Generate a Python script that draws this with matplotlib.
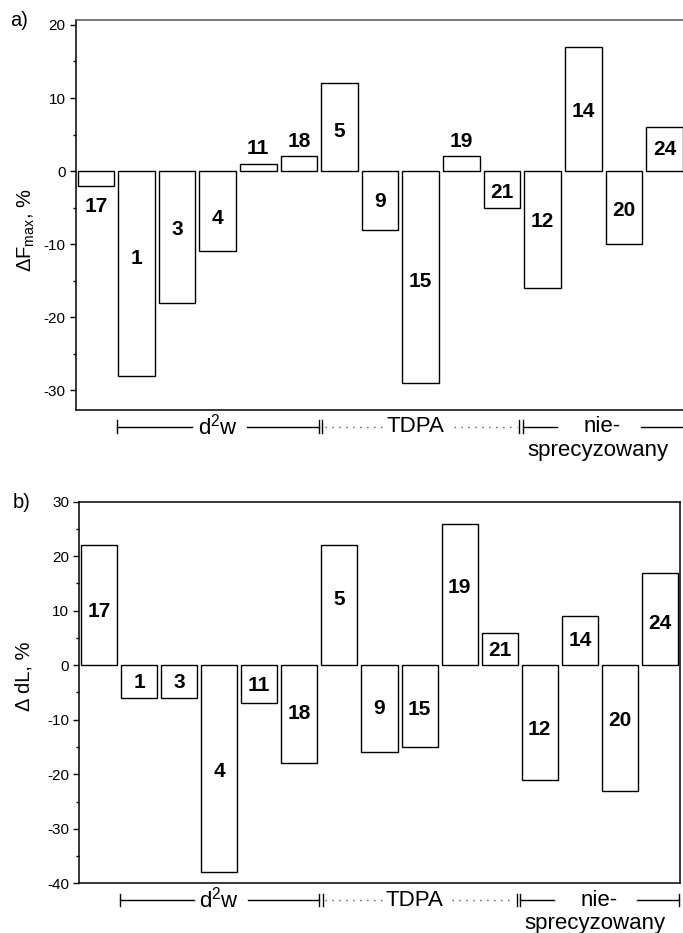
import matplotlib
matplotlib.use("Agg")
import matplotlib.pyplot as plt
import matplotlib.transforms as mtransforms
from matplotlib.ticker import MultipleLocator
import numpy as np

plt.rcParams['font.family'] = ['Liberation Sans', 'DejaVu Sans']
plt.rcParams['mathtext.fontset'] = 'custom'
plt.rcParams['mathtext.rm'] = 'Liberation Sans'
plt.rcParams['mathtext.it'] = 'Liberation Sans:italic'
plt.rcParams['mathtext.bf'] = 'Liberation Sans:bold'

# ---------------- data ----------------
samples = ["17", "1", "3", "4", "11", "18", "5", "9", "15", "19", "21", "12", "14", "20", "24"]
dF_max = [-2, -28, -18, -11, 1, 2, 12, -8, -29, 2, -5, -16, 17, -10, 6]
d_dL = [22, -6, -6, -38, -7, -18, 22, -16, -15, 26, 6, -21, 9, -23, 17]
# vertical positions of the sample numbers (data units)
label_y_a = [-4.8, -12, -8, -6.5, 3.1, 4.0, 5.4, -4.2, -15.1, 4.0, -2.95, -6.9, 8.2, -5.4, 2.9]
label_y_b = [9.8, -3.2, -3.2, -19.4, -3.7, -8.9, 12.0, -7.9, -8.1, 14.2, 2.7, -11.8, 4.6, -10.2, 7.6]
yticks_a = [-30, -20, -10, 0, 10, 20]
yticks_b = [-40, -30, -20, -10, 0, 10, 20, 30]
group_names = ["d$^{2}$w", "TDPA", "nie-", "sprecyzowany"]

W, H = 683, 933
fig = plt.figure(figsize=(W / 100, H / 100), dpi=100)


def px_axes(l, t, r, b):
    return fig.add_axes([l / W, 1 - b / H, (r - l) / W, (b - t) / H])


ax_a = px_axes(75.5, 20, 684.8, 410)
ax_b = px_axes(79, 501.7, 680, 883.3)

x = np.arange(len(samples))
BRACKET_FS = 16
BAR_FS = 15


def style_axes(ax, ylim, yticks, top_color='black'):
    ax.set_xlim(-0.5, len(samples) - 0.5)
    ax.set_ylim(*ylim)
    ax.set_yticks(yticks)
    ax.set_yticklabels([str(v) for v in yticks])
    ax.set_xticks([])
    ax.yaxis.set_minor_locator(MultipleLocator(5))
    ax.tick_params(axis='y', which='major', direction='out', length=4, width=1,
                   labelsize=11, pad=3.2)
    ax.tick_params(axis='y', which='minor', direction='out', length=2.5, width=1)
    for s in ax.spines.values():
        s.set_linewidth(1.1)
    ax.spines['top'].set_color(top_color)


def draw_bars(ax, vals, labels_y):
    ax.bar(x, vals, width=0.9, color='white', edgecolor='black', linewidth=1.0, zorder=2)
    for xi, lab, ly in zip(x, samples, labels_y):
        ax.text(xi, ly, lab, ha='center', va='center', fontsize=BAR_FS,
                fontweight='bold', zorder=3)


def draw_brackets(ax, yfrac):
    tr = mtransforms.blended_transform_factory(ax.transData, ax.transAxes)
    h = 0.016
    kw = dict(transform=tr, clip_on=False, color='black', linewidth=1.0)
    # d2w group
    ax.plot([0.53, 0.53], [yfrac - h, yfrac + h], **kw)
    ax.plot([0.53, 2.37], [yfrac, yfrac], **kw)
    ax.plot([3.72, 5.50], [yfrac, yfrac], **kw)
    ax.plot([5.50, 5.50], [yfrac - h, yfrac + h], **kw)
    ax.plot([5.58, 5.58], [yfrac - h, yfrac + h], **kw)
    ax.text(3.0, yfrac, group_names[0], transform=tr, ha='center', va='center',
            fontsize=BRACKET_FS, clip_on=False)
    # TDPA group (dotted)
    dkw = dict(transform=tr, clip_on=False, color='#555555', linewidth=1.0,
               linestyle=(0, (1, 4)))
    ax.plot([5.64, 7.15], [yfrac, yfrac], **dkw)
    ax.plot([8.82, 10.36], [yfrac, yfrac], **dkw)
    ax.text(7.87, yfrac, group_names[1], transform=tr, ha='center', va='center',
            fontsize=BRACKET_FS, clip_on=False)
    ax.plot([10.43, 10.43], [yfrac - h, yfrac + h], **kw)
    ax.plot([10.51, 10.51], [yfrac - h, yfrac + h], **kw)
    # unspecified group
    ax.plot([10.51, 11.35], [yfrac, yfrac], **kw)
    ax.plot([13.42, 14.47], [yfrac, yfrac], **kw)
    ax.plot([14.47, 14.47], [yfrac - h, yfrac + h], **kw)
    ax.text(12.47, yfrac, group_names[2], transform=tr, ha='center', va='center',
            fontsize=BRACKET_FS, clip_on=False)
    ax.text(12.37, yfrac - 0.062, group_names[3], transform=tr, ha='center',
            va='center', fontsize=BRACKET_FS, clip_on=False)


style_axes(ax_a, (-32.70, 20.68), yticks_a, top_color='#555555')
draw_bars(ax_a, dF_max, label_y_a)
draw_brackets(ax_a, -0.0428)

style_axes(ax_b, (-40, 30), yticks_b)
draw_bars(ax_b, d_dL, label_y_b)
draw_brackets(ax_b, -0.0438)

fig.text(26 / W, 1 - 230 / H, "ΔF$_{\\mathrm{max}}$, %", rotation=90,
         ha='center', va='center', fontsize=14.5)
fig.text(24.5 / W, 1 - 676.5 / H, "Δ dL, %", rotation=90,
         ha='center', va='center', fontsize=14.5)
fig.text(18.8 / W, 1 - 21 / H, "a)", ha='center', va='center', fontsize=14.5)
fig.text(22 / W, 1 - 503 / H, "b)", ha='center', va='center', fontsize=14.5)

fig.savefig("out.png", dpi=100)
